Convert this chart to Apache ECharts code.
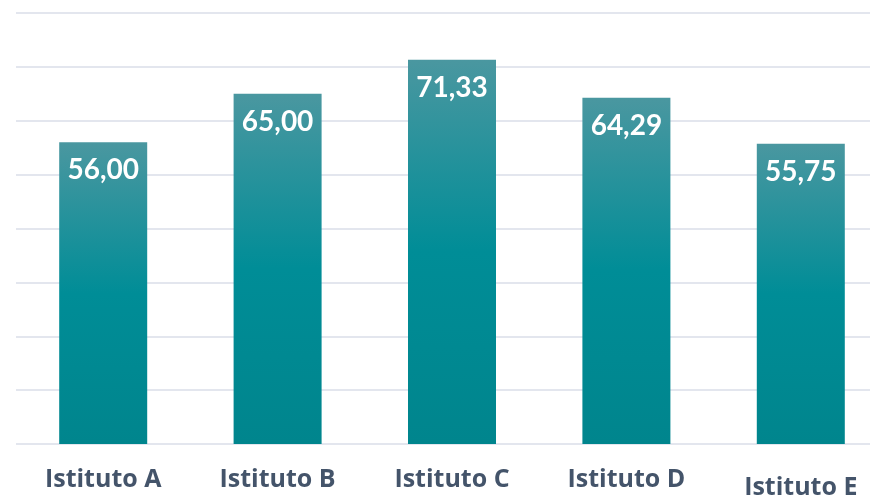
<!DOCTYPE html>
<html>
<head>
<meta charset="utf-8">
<script src="https://cdn.jsdelivr.net/npm/echarts@6/dist/echarts.min.js"></script>
<style>
  html, body { margin: 0; padding: 0; background: #fff; }
  #chart { width: 870px; height: 498px; }
</style>
</head>
<body>
<div id="chart"></div>
<script>
// dati
var categories = ['Istituto A', 'Istituto B', 'Istituto C', 'Istituto D', 'Istituto E'];
var values = [56.00, 65.00, 71.33, 64.29, 55.75];
var yTicks = [0, 10, 20, 30, 40, 50, 60, 70, 80];

var chart = echarts.init(document.getElementById('chart'));

var barColor = new echarts.graphic.LinearGradient(0, 0, 0, 1, [
    { offset: 0, color: '#4a97a0' },
    { offset: 0.5, color: '#008d97' },
    { offset: 1, color: '#00858d' }
]);

chart.setOption({
    animation: false,
    grid: { left: 16, width: 872, top: 13, bottom: 54, outerBoundsMode: 'none', containLabel: false },
    xAxis: {
        type: 'category',
        data: categories.map(function (c, i) {
            // l'ultima etichetta sta un po' più in basso
            return i === categories.length - 1
                ? { value: c, textStyle: { padding: [8, 0, 0, 0] } }
                : c;
        }),
        axisLine: { show: false },
        axisTick: { show: false },
        axisLabel: {
            margin: 23,
            color: '#44546a',
            fontFamily: 'Open Sans',
            fontWeight: 'bold',
            fontSize: 25
        }
    },
    yAxis: {
        type: 'value',
        min: yTicks[0],
        max: yTicks[yTicks.length - 1],
        interval: 10,
        axisLabel: { show: false },
        axisLine: { show: false },
        axisTick: { show: false },
        splitLine: { lineStyle: { color: '#e3e6ee', width: 2 } }
    },
    series: [{
        type: 'bar',
        data: values,
        barWidth: 88,
        itemStyle: { color: barColor },
        label: {
            show: true,
            position: 'insideTop',
            distance: 14,
            color: '#ffffff',
            fontFamily: 'Lato',
            fontWeight: 'bold',
            fontSize: 28,
            formatter: function (p) {
                return p.value.toFixed(2).replace('.', ',');
            }
        }
    }]
});
</script>
</body>
</html>
